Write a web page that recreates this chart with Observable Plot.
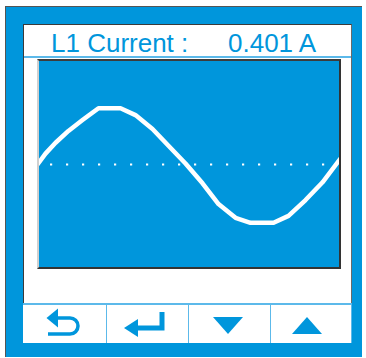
<!DOCTYPE html>
<html>
<head>
<meta charset="utf-8">
<script src="https://cdn.jsdelivr.net/npm/d3@7"></script>
<script src="https://cdn.jsdelivr.net/npm/@observablehq/plot@0.6"></script>
<style>
  html, body { margin: 0; padding: 0; background: #fff; }
  body { width: 366px; height: 358px; position: relative; overflow: hidden; font-family: "Liberation Sans", Arial, sans-serif; }
  .abs { position: absolute; box-sizing: border-box; }
</style>
</head>
<body>
<script>
// ---- data ----
const titleLabel = "L1 Current :";
const titleValue = "0.401 A";
// waveform samples: time (ms) and current (A)
const timeMs   = [0, 0.54, 1.22, 2.09, 3.04, 4.12, 5.61, 6.62, 7.77, 8.85, 10.0, 11.15, 12.23, 13.38, 14.39, 15.95, 16.96, 18.11, 19.26, 20.47, 20.8];
const currentA = [0, 0.11, 0.22, 0.34, 0.45, 0.57, 0.57, 0.50, 0.36, 0.19, 0.01, -0.19, -0.40, -0.54, -0.59, -0.59, -0.52, -0.36, -0.18, 0.06, 0.12];
const timeDomain = [0, 20.54];
const currentDomain = [-1.063, 1.063];
const midlineValue = [0];
const midlineEnd = 19.46;

const BLUE = "#0096dc";
const LIGHT = "#5cb9ea";

function box(css) {
  const d = document.createElement("div");
  d.className = "abs";
  Object.assign(d.style, css);
  document.body.appendChild(d);
  return d;
}

// outer blue frame
box({left: "5px", top: "6px", width: "357px", height: "351px", background: BLUE, borderLeft: "1px solid #555", borderTop: "1px solid #555"});
// white panel (title + plot)
box({left: "23px", top: "24px", width: "329px", height: "280px", background: "#fff", borderTop: "1px solid #3a3a3a", borderLeft: "1px solid #3a3a3a", borderRight: "1px solid #6a6a6a"});
// title separator
box({left: "24px", top: "56px", width: "327px", height: "2px", background: LIGHT});
// title texts
const t1 = box({left: "51px", top: "28px", fontSize: "26px", lineHeight: "30px", color: BLUE, whiteSpace: "pre"});
t1.textContent = titleLabel;
const t2 = box({left: "228px", top: "28px", fontSize: "26px", lineHeight: "30px", color: BLUE, whiteSpace: "pre"});
t2.textContent = titleValue;

// button row
box({left: "23px", top: "303px", width: "329px", height: "40px", background: "#fff", borderTop: "2px solid " + LIGHT, borderRight: "1px solid " + LIGHT});
[106, 188, 270].forEach(x => box({left: x + "px", top: "304px", width: "1px", height: "39px", background: LIGHT}));

// icons
const ns = "http://www.w3.org/2000/svg";
const icons = document.createElementNS(ns, "svg");
icons.setAttribute("width", 366); icons.setAttribute("height", 358);
icons.style.position = "absolute"; icons.style.left = "0"; icons.style.top = "0";
icons.innerHTML = `
  <g fill="${BLUE}" stroke="none">
    <path d="M46.5 318 L58 308.5 L58 327.5 Z"/>
    <path d="M124 328 L138 319 L138 337 Z"/>
    <path d="M213 317 L243 317 L228 334 Z"/>
    <path d="M292 334 L322 334 L307 317 Z"/>
  </g>
  <g fill="none" stroke="${BLUE}">
    <path d="M56 318 L70 318 A8 8 0 0 1 70 334 L48 334" stroke-width="3.5"/>
    <path d="M137 328 L162 328 L162 312" stroke-width="5"/>
  </g>`;
document.body.appendChild(icons);

// plot area
const plotBox = box({left: "37px", top: "59px", width: "304px", height: "210px", background: BLUE, overflow: "hidden"});

const data = timeMs.map((t, i) => ({t, a: currentA[i]}));
const chart = Plot.plot({
  width: 304,
  height: 210,
  margin: 0,
  x: {domain: timeDomain, axis: null},
  y: {domain: currentDomain, axis: null},
  style: {background: "transparent", overflow: "hidden"},
  marks: [
    Plot.ruleY(midlineValue, {x1: 0, x2: midlineEnd, stroke: "#fff", strokeWidth: 2.2, strokeDasharray: "2.2 13.8", strokeDashoffset: 3}),
    Plot.line(data, {x: "t", y: "a", stroke: "#fff", strokeWidth: 4.5, strokeLinejoin: "round", curve: "linear"})
  ]
});
chart.style.position = "absolute";
chart.style.left = "0"; chart.style.top = "0";
plotBox.appendChild(chart);
// plot bevel border
box({left: "37px", top: "59px", width: "304px", height: "210px", borderTop: "2px solid #3c3c3c", borderRight: "2px solid #333", borderBottom: "2px solid #333", borderLeft: "2px solid #d0d0d0"});
</script>
</body>
</html>
